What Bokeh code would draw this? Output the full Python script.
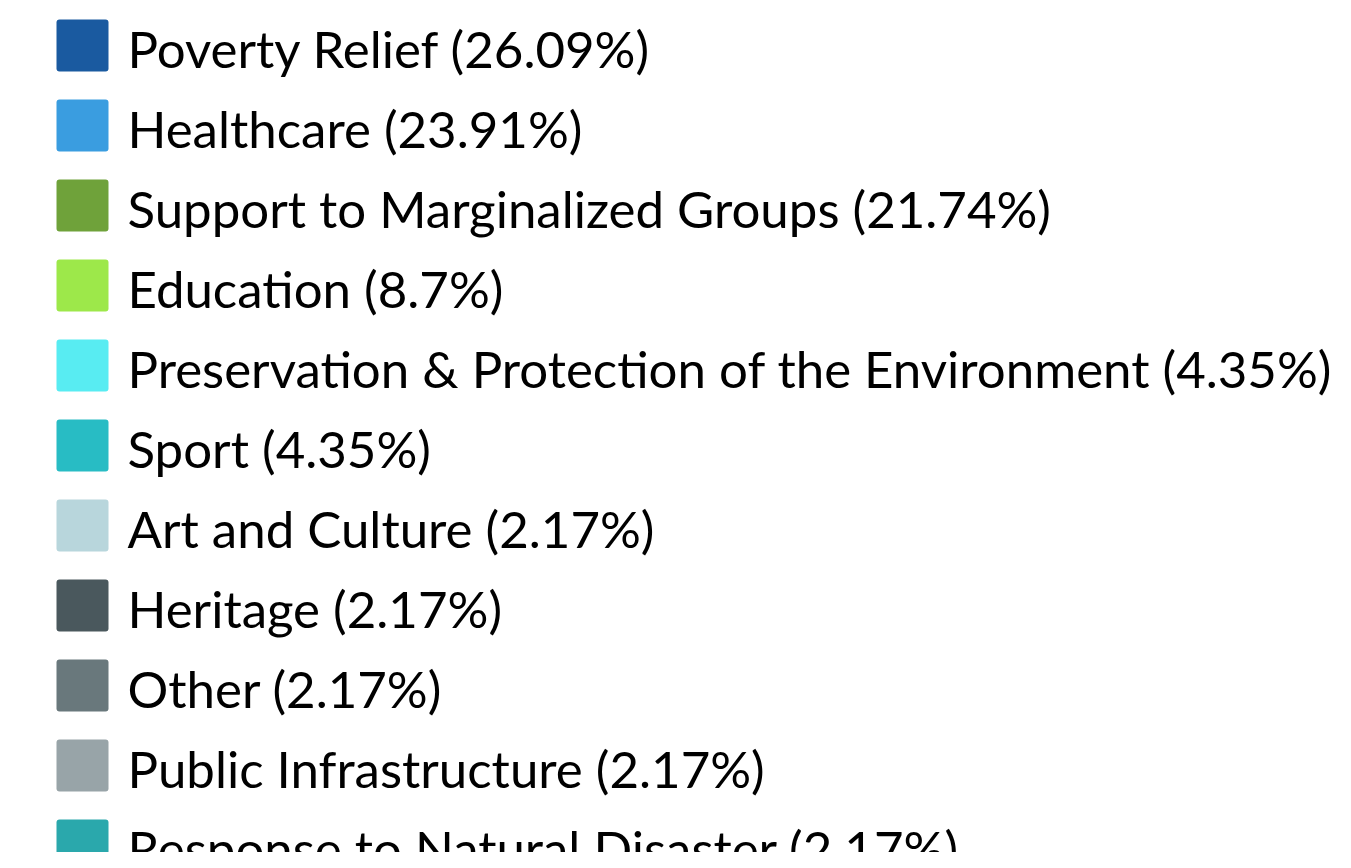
from bokeh.plotting import figure
from bokeh.models import Range1d, ColumnDataSource
from bokeh.core.properties import value
from bokeh.embed import file_html
from bokeh.resources import INLINE

categories = [
    "Poverty Relief",
    "Healthcare",
    "Support to Marginalized Groups",
    "Education",
    "Preservation & Protection of the Environment",
    "Sport",
    "Art and Culture",
    "Heritage",
    "Other",
    "Public Infrastructure",
    "Response to  Natural Disaster",
]
counts = [12, 11, 10, 4, 2, 2, 1, 1, 1, 1, 1]
colors = [
    "#1a5aa0", "#3a9de0", "#6fa23a", "#9de84a", "#58ecf2", "#28bcc4",
    "#b8d6dc", "#4a585d", "#69787c", "#98a4a8", "#2aa8ac",
]

W, H = 1335, 852
total = sum(counts)
labels = []
for c, n in zip(categories, counts):
    pct = round(n / total * 100, 2)
    s = ("%.2f" % pct).rstrip("0").rstrip(".")
    labels.append(f"{c} ({s}%)")

row_h = 80
idx = list(range(len(categories)))
top = [19 + i * row_h for i in idx]
bottom = [t + 52 for t in top]
left = [56] * len(idx)
right = [108] * len(idx)
tx = [127] * len(idx)
ty = [48 + i * row_h for i in idx]

src = ColumnDataSource(dict(top=top, bottom=bottom, left=left, right=right,
                            color=colors, tx=tx, ty=ty, label=labels))

p = figure(width=W, height=H, output_backend="svg", toolbar_location=None,
           x_range=Range1d(0, W), y_range=Range1d(H, 0), min_border=0)
p.axis.visible = False
p.grid.visible = False
p.outline_line_color = None
p.background_fill_color = "white"
p.border_fill_color = "white"

p.quad(left="left", right="right", top="top", bottom="bottom", source=src,
       fill_color="color", line_color=None, border_radius=3)
p.text(x="tx", y="ty", text="label", source=src, text_font=value("Lato"),
       text_font_size="51px", text_baseline="alphabetic", text_align="left",
       text_color="#000000")

open("out.html", "w").write(file_html(p, INLINE))
